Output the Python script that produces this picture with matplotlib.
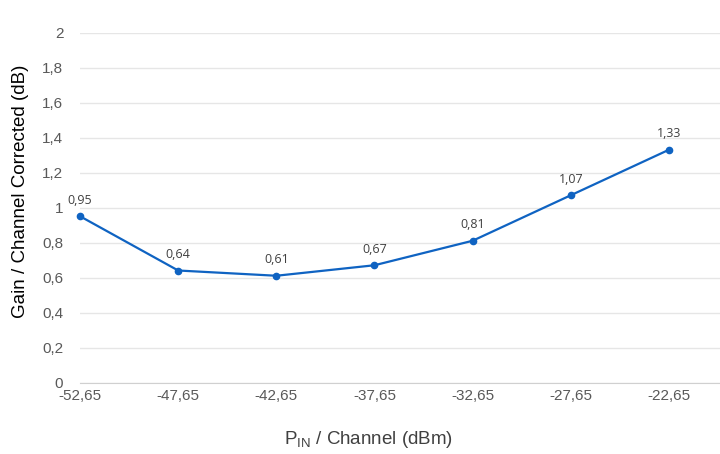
import matplotlib
matplotlib.use("Agg")
import matplotlib.pyplot as plt

# data
pin_labels = ['-52,65', '-47,65', '-42,65', '-37,65', '-32,65', '-27,65', '-22,65']
gain = [0.95, 0.64, 0.61, 0.67, 0.81, 1.07, 1.33]
yticks = [0, 0.2, 0.4, 0.6, 0.8, 1, 1.2, 1.4, 1.6, 1.8, 2]

plt.rcParams['font.family'] = ['Liberation Sans', 'DejaVu Sans']
plt.rcParams['mathtext.fontset'] = 'custom'
plt.rcParams['mathtext.rm'] = 'Liberation Sans'

fig = plt.figure(figsize=(7.2, 4.54), dpi=100)
ax = fig.add_axes([80/720, 1 - 382.5/454, 1 - 80/720, 350/454])

x = list(range(len(gain)))
ax.plot(x, gain, color='#0F63C2', lw=1.6, marker='o', ms=4.5, zorder=3, clip_on=False)

for xi, g in zip(x, gain):
    ax.annotate(f'{g:.2f}'.replace('.', ','), (xi, g), xytext=(0, 7),
                textcoords='offset points', ha='center', va='bottom',
                fontsize=9, color='#404040', family='Open Sans')

ax.set_xlim(0, 6.52)
ax.set_ylim(0, 2)
ax.set_xticks(x)
ax.set_xticklabels(pin_labels)
ax.set_yticks(yticks)
ax.set_yticklabels([f'{v:g}'.replace('.', ',') for v in yticks])
ax.tick_params(axis='both', length=0, labelsize=11, labelcolor='#595959')
ax.tick_params(axis='y', pad=12)
ax.tick_params(axis='x', pad=5)

ax.grid(axis='y', color='#E6E6E6', lw=1)
ax.set_axisbelow(True)
for s in ['top', 'right', 'left']:
    ax.spines[s].set_visible(False)
ax.spines['bottom'].set_color('#D0D0D0')

ax.set_ylabel('Gain / Channel Corrected (dB)', fontsize=13.5, color='black')
ax.yaxis.set_label_coords(-0.08, 0.547)
ax.set_xlabel(r'P$_{\mathrm{IN}}$ / Channel (dBm)', fontsize=13.5, color='#404040')
ax.xaxis.set_label_coords(0.45, -0.133)

fig.savefig('out.png', dpi=100)
